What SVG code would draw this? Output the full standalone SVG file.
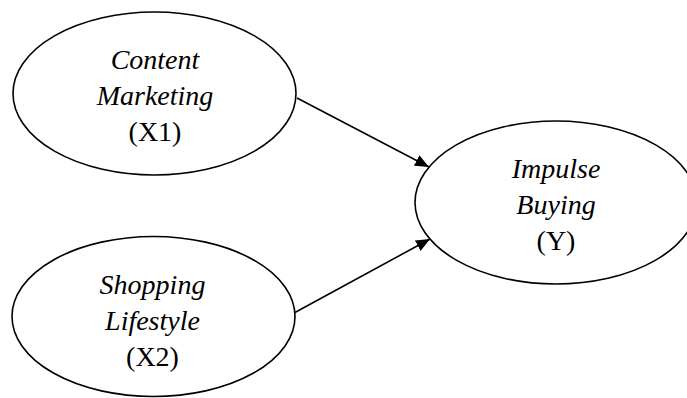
<svg xmlns="http://www.w3.org/2000/svg" width="687" height="398" viewBox="0 0 687 398">
  <style>
    .node { fill: #ffffff; stroke: #000000; stroke-width: 1.6; }
    .lbl { font-family: "Liberation Serif", "Times New Roman", serif; font-size: 28px; fill: #000000; text-anchor: middle; }
    .it { font-style: italic; }
    .edge { stroke: #000000; stroke-width: 1.6; fill: none; marker-end: url(#arrow); }
  </style>
  <defs>
    <marker id="arrow" viewBox="0 0 14 12" refX="14" refY="6" markerWidth="14" markerHeight="12" markerUnits="userSpaceOnUse" orient="auto">
      <path d="M0,0 L14,6 L0,12 Z" fill="#000000"/>
    </marker>
  </defs>
  <rect width="687" height="398" fill="#ffffff"/>

  <g id="connectors">
    <line class="edge" x1="297" y1="98" x2="429" y2="167"/>
    <line class="edge" x1="294" y1="313" x2="430" y2="239"/>
  </g>

  <g id="content-marketing">
    <ellipse class="node" cx="154.5" cy="93.5" rx="141.5" ry="81.5"/>
    <text class="lbl it" x="155" y="69">Content</text>
    <text class="lbl it" x="155" y="105">Marketing</text>
    <text class="lbl" x="155" y="141">(X1)</text>
  </g>

  <g id="shopping-lifestyle">
    <ellipse class="node" cx="153.5" cy="316.5" rx="141.5" ry="80"/>
    <text class="lbl it" x="152.5" y="294">Shopping</text>
    <text class="lbl it" x="152.5" y="330">Lifestyle</text>
    <text class="lbl" x="152.5" y="366">(X2)</text>
  </g>

  <g id="impulse-buying">
    <ellipse class="node" cx="556" cy="202.5" rx="141" ry="81.5"/>
    <text class="lbl it" x="556" y="178">Impulse</text>
    <text class="lbl it" x="556" y="214">Buying</text>
    <text class="lbl" x="556" y="250">(Y)</text>
  </g>
</svg>
